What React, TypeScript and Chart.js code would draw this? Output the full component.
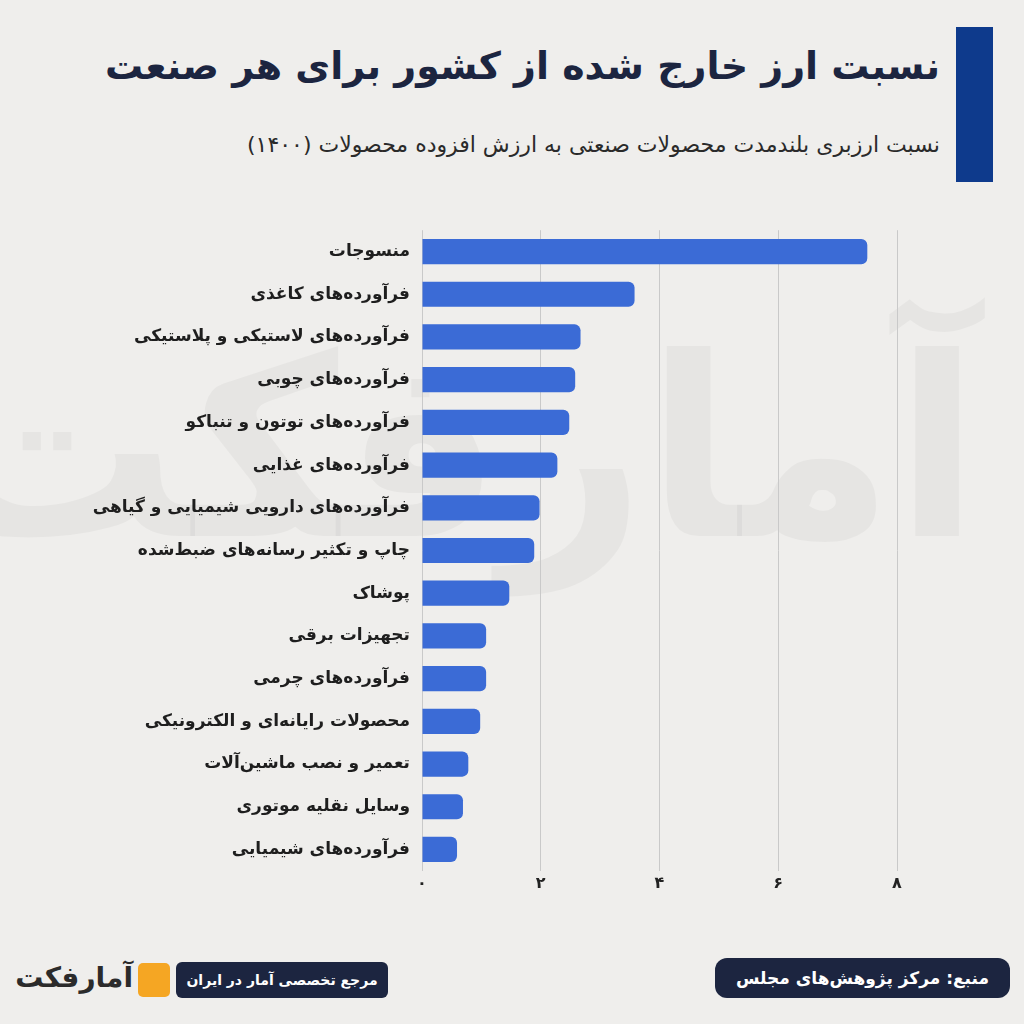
import React, { useEffect, useRef } from "react";
import { Chart, registerables } from "chart.js";

Chart.register(...registerables);

const categories: string[] = [
  "منسوجات",
  "فرآورده‌های کاغذی",
  "فرآورده‌های لاستیکی و پلاستیکی",
  "فرآورده‌های چوبی",
  "فرآورده‌های توتون و تنباکو",
  "فرآورده‌های غذایی",
  "فرآورده‌های دارویی شیمیایی و گیاهی",
  "چاپ و تکثیر رسانه‌های ضبط‌شده",
  "پوشاک",
  "تجهیزات برقی",
  "فرآورده‌های چرمی",
  "محصولات رایانه‌ای و الکترونیکی",
  "تعمیر و نصب ماشین‌آلات",
  "وسایل نقلیه موتوری",
  "فرآورده‌های شیمیایی",
];

const values: number[] = [7.5, 3.58, 2.67, 2.58, 2.48, 2.28, 1.98, 1.89, 1.47, 1.08, 1.08, 0.98, 0.78, 0.69, 0.59];

const xTicks: number[] = [0, 2, 4, 6, 8];

const title = "نسبت ارز خارج شده از کشور برای هر صنعت";
const subtitle = "نسبت ارزبری بلندمدت محصولات صنعتی به ارزش افزوده محصولات (۱۴۰۰)";
const sourceText = "منبع: مرکز پژوهش‌های مجلس";
const brandText = "مرجع تخصصی آمار در ایران";
const logoText = "آمارفکت";

const toPersian = (n: number | string) =>
  String(n).replace(/[0-9]/g, (d) => "۰۱۲۳۴۵۶۷۸۹"[Number(d)]);

const FONT = "'DejaVu Sans', sans-serif";

export default function App() {
  const ref = useRef<HTMLCanvasElement | null>(null);

  useEffect(() => {
    if (!ref.current) return;
    const chart = new Chart(ref.current, {
      type: "bar",
      data: {
        labels: categories,
        datasets: [
          {
            data: values,
            backgroundColor: "#3b6bd6",
            borderRadius: 6,
            barPercentage: 0.59,
            categoryPercentage: 1,
          },
        ],
      },
      options: {
        indexAxis: "y",
        animation: false,
        responsive: false,
        maintainAspectRatio: false,
        layout: { padding: { top: 8, right: 127, bottom: 12, left: 0 } },
        plugins: { legend: { display: false }, tooltip: { enabled: false } },
        scales: {
          x: {
            min: 0,
            max: 8,
            afterBuildTicks: (scale: any) => {
              scale.ticks = xTicks.map((v) => ({ value: v }));
            },
            grid: { color: "#c9c9c9", lineWidth: 1, drawTicks: false },
            border: { display: false },
            ticks: {
              padding: 3,
              color: "#222",
              font: { family: FONT, size: 16, weight: "bold" },
              callback: (v: any) => toPersian(v),
            },
          },
          y: {
            grid: { display: false, drawTicks: false },
            border: { display: false },
            afterFit: (scale: any) => {
              scale.width = 422;
            },
            ticks: {
              padding: 12,
              color: "#1e1e1e",
              font: { family: FONT, size: 17, weight: "bold" },
            },
          },
        },
      },
    });
    return () => chart.destroy();
  }, []);

  return (
    <div
      style={{
        position: "absolute",
        left: 0,
        top: 0,
        width: 1024,
        height: 1024,
        background: "#efeeec",
        overflow: "hidden",
        fontFamily: FONT,
      }}
    >
      <div
        style={{
          position: "absolute",
          left: 60,
          top: 300,
          width: 920,
          textAlign: "center",
          fontSize: 250,
          fontWeight: "bold",
          color: "rgba(0,0,0,0.035)",
          direction: "rtl",
          lineHeight: 1.2,
        }}
      >
        {logoText}
      </div>
      <div
        style={{
          position: "absolute",
          left: 956,
          top: 27,
          width: 37,
          height: 155,
          background: "#0e3a8c",
        }}
      />
      <div
        style={{
          position: "absolute",
          right: 84,
          top: 44,
          direction: "rtl",
          fontSize: 38,
          fontWeight: "bold",
          color: "#1c2540",
          whiteSpace: "nowrap",
        }}
      >
        {title}
      </div>
      <div
        style={{
          position: "absolute",
          right: 84,
          top: 132,
          direction: "rtl",
          fontSize: 22,
          color: "#2a2a2a",
          whiteSpace: "nowrap",
        }}
      >
        {subtitle}
      </div>
      <canvas
        ref={ref}
        width={1024}
        height={700}
        style={{ position: "absolute", left: 0, top: 208, width: 1024, height: 700 }}
      />
      <div
        style={{
          position: "absolute",
          left: 715,
          top: 958,
          width: 295,
          height: 40,
          borderRadius: 12,
          background: "#1c2540",
          color: "#fff",
          direction: "rtl",
          fontSize: 17,
          fontWeight: "bold",
          display: "flex",
          alignItems: "center",
          justifyContent: "center",
        }}
      >
        {sourceText}
      </div>
      <div
        style={{
          position: "absolute",
          left: 176,
          top: 962,
          width: 212,
          height: 36,
          borderRadius: 6,
          background: "#1c2540",
          color: "#fff",
          direction: "rtl",
          fontSize: 14,
          fontWeight: "bold",
          display: "flex",
          alignItems: "center",
          justifyContent: "center",
        }}
      >
        {brandText}
      </div>
      <div
        style={{
          position: "absolute",
          left: 138,
          top: 963,
          width: 32,
          height: 34,
          borderRadius: 5,
          background: "#f5a623",
        }}
      />
      <div
        style={{
          position: "absolute",
          left: 18,
          top: 958,
          width: 115,
          direction: "rtl",
          textAlign: "center",
          fontSize: 28,
          fontWeight: "bold",
          color: "#2b2b2b",
          lineHeight: "40px",
        }}
      >
        {logoText}
      </div>
    </div>
  );
}
